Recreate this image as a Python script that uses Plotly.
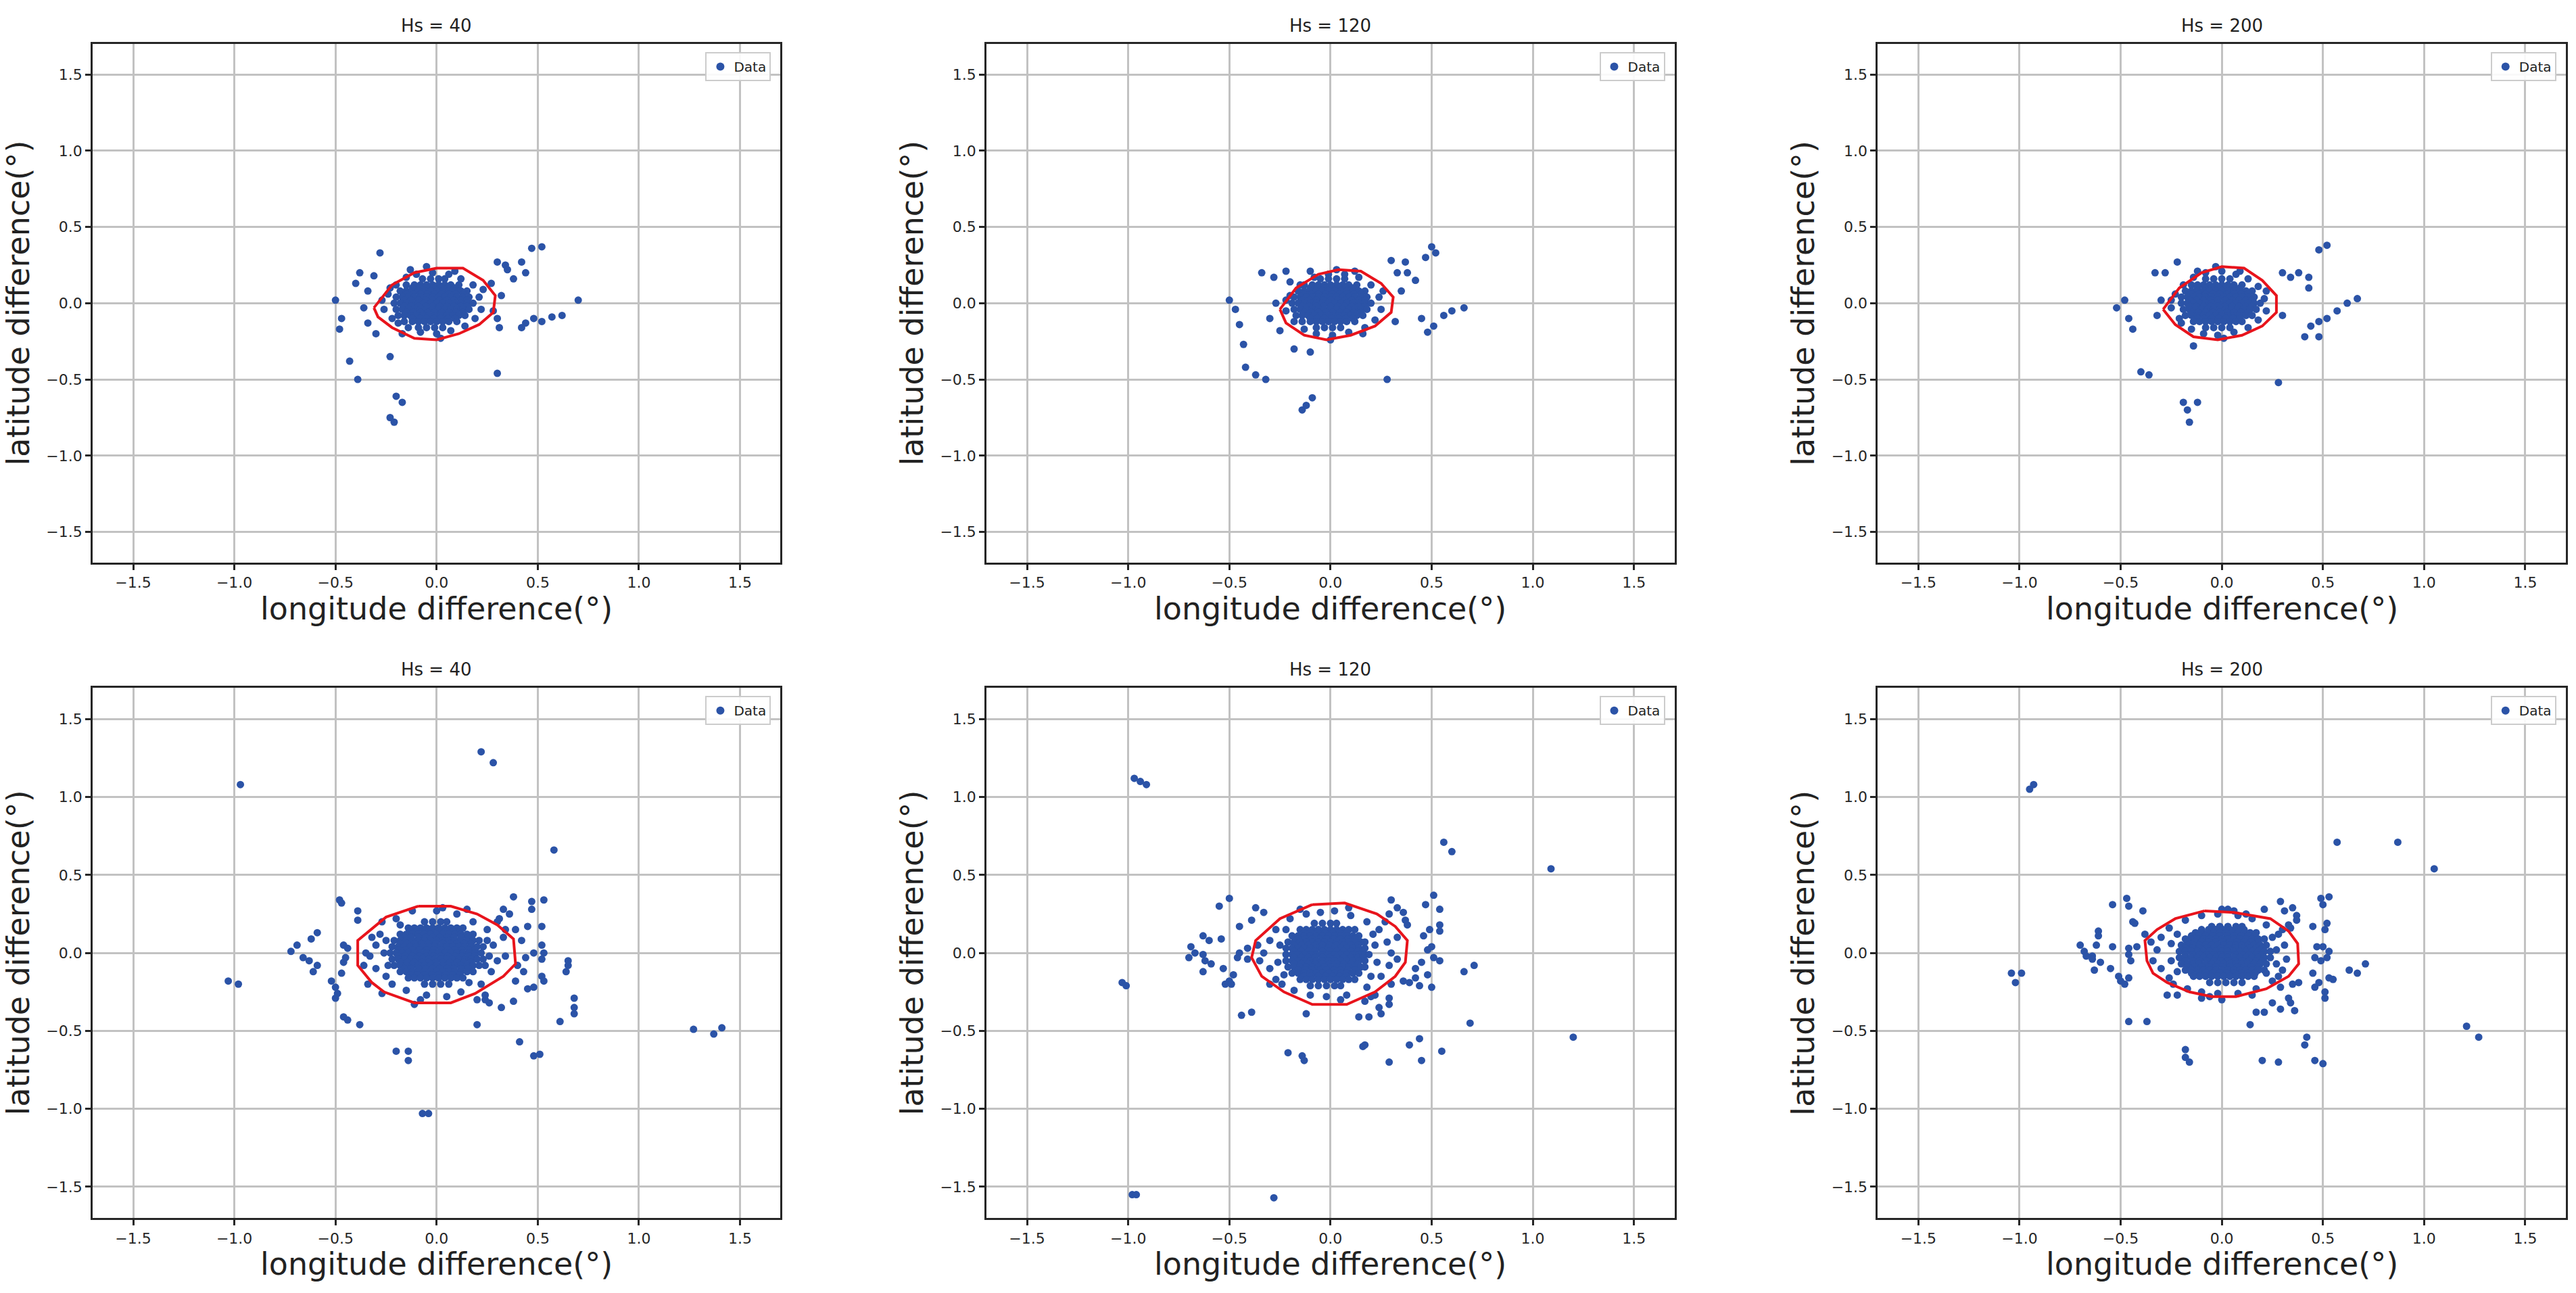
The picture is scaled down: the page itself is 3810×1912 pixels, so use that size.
import plotly.graph_objects as go

# ---------------- data ----------------
titles = ["Hs = 40", "Hs = 120", "Hs = 200", "Hs = 40", "Hs = 120", "Hs = 200"]
tick_vals = [-1.5, -1.0, -0.5, 0.0, 0.5, 1.0, 1.5]
tick_text = ["\u22121.5", "\u22121.0", "\u22120.5", "0.0", "0.5", "1.0", "1.5"]
x_label = "longitude difference(°)"
y_label = "latitude difference(°)"
legend_label = "Data"

# dense cores: (latitude, [longitudes])
p1_core = [
    (0.16, [-0.07, -0.03, 0.01, 0.04]),
    (0.12, [-0.15, -0.11, -0.08, -0.05, -0.02, 0.01, 0.04, 0.07, 0.11]),
    (0.1, [-0.12, -0.085, -0.05, -0.015, 0.02, 0.055, 0.09]),
    (0.08, [-0.18, -0.15, -0.12, -0.09, -0.06, -0.03, 0.0, 0.03, 0.06, 0.09, 0.12, 0.15]),
    (0.06, [-0.15, -0.115, -0.08, -0.045, -0.01, 0.025, 0.06, 0.095, 0.13]),
    (0.04, [-0.2, -0.17, -0.14, -0.11, -0.08, -0.05, -0.02, 0.01, 0.04, 0.07, 0.1, 0.13, 0.16]),
    (0.02, [-0.16, -0.125, -0.09, -0.055, -0.02, 0.015, 0.05, 0.085, 0.12, 0.15]),
    (0.0, [-0.21, -0.18, -0.15, -0.12, -0.09, -0.06, -0.03, 0.0, 0.03, 0.06, 0.09, 0.12, 0.15, 0.18]),
    (-0.02, [-0.16, -0.125, -0.09, -0.055, -0.02, 0.015, 0.05, 0.085, 0.12, 0.15]),
    (-0.04, [-0.2, -0.17, -0.14, -0.11, -0.08, -0.05, -0.02, 0.01, 0.04, 0.07, 0.1, 0.13, 0.16]),
    (-0.06, [-0.15, -0.115, -0.08, -0.045, -0.01, 0.025, 0.06, 0.095, 0.13]),
    (-0.08, [-0.19, -0.16, -0.13, -0.1, -0.07, -0.04, -0.01, 0.02, 0.05, 0.08, 0.11, 0.14]),
    (-0.1, [-0.12, -0.085, -0.05, -0.015, 0.02, 0.055, 0.09]),
    (-0.12, [-0.16, -0.12, -0.09, -0.06, -0.03, 0.0, 0.03, 0.06, 0.1]),
    (-0.16, [-0.09, -0.05, -0.01, 0.03]),
]
p1_pts = [
    (-0.26, -0.04), (-0.24, 0.06), (-0.22, -0.1), (-0.2, 0.12), (-0.15, 0.17), (-0.1, 0.19), (-0.02, 0.2),
    (0.06, 0.19), (0.12, 0.16), (0.18, 0.12), (0.21, 0.04), (0.22, -0.04), (0.19, -0.1), (0.14, -0.15),
    (0.07, -0.18), (0.0, -0.2), (-0.08, -0.19), (-0.14, -0.16), (-0.19, -0.13), (-0.23, 0.1), (-0.05, 0.24),
    (-0.13, 0.22), (0.09, 0.21), (-0.17, -0.2), (0.02, -0.23), (0.23, 0.09), (-0.27, 0.02),
    (-0.5, 0.02), (-0.47, -0.1), (-0.48, -0.17), (-0.43, -0.38), (-0.39, -0.5), (-0.4, 0.13), (-0.34, 0.08),
    (-0.28, 0.33), (-0.31, 0.18), (-0.2, -0.61), (-0.23, -0.75), (-0.21, -0.78), (-0.17, -0.65), (-0.23, -0.35),
    (-0.36, -0.03), (-0.34, -0.13), (-0.38, 0.2), (0.27, 0.13), (0.3, 0.27), (0.42, 0.27), (0.47, 0.36),
    (0.52, 0.37), (0.38, 0.16), (0.44, 0.2), (0.32, 0.05), (0.44, -0.13), (0.48, -0.1), (0.52, -0.12),
    (0.57, -0.09), (0.62, -0.08), (0.7, 0.02), (0.42, -0.16), (0.3, -0.46), (0.35, 0.22), (0.3, -0.1),
    (0.34, 0.25), (0.28, -0.05), (-0.3, -0.2), (0.31, -0.16),
]
p1_hull_x = [-0.31, -0.22, -0.11, 0.0, 0.13, 0.23, 0.29, 0.28, 0.21, 0.11, 0.0, -0.11, -0.22, -0.29, -0.31]
p1_hull_y = [-0.03, 0.12, 0.2, 0.23, 0.23, 0.15, 0.05, -0.06, -0.14, -0.2, -0.24, -0.23, -0.16, -0.09, -0.03]

p2_core = [
    (0.16, [-0.05, -0.01, 0.03, 0.07]),
    (0.12, [-0.13, -0.09, -0.06, -0.03, 0.0, 0.03, 0.06, 0.09, 0.13]),
    (0.1, [-0.1, -0.065, -0.03, 0.005, 0.04, 0.075, 0.11]),
    (0.08, [-0.16, -0.13, -0.1, -0.07, -0.04, -0.01, 0.02, 0.05, 0.08, 0.11, 0.14, 0.17]),
    (0.06, [-0.13, -0.095, -0.06, -0.025, 0.01, 0.045, 0.08, 0.115, 0.15]),
    (0.04, [-0.18, -0.15, -0.12, -0.09, -0.06, -0.03, 0.0, 0.03, 0.06, 0.09, 0.12, 0.15, 0.18]),
    (0.02, [-0.14, -0.105, -0.07, -0.035, 0.0, 0.035, 0.07, 0.105, 0.14, 0.17]),
    (0.0, [-0.19, -0.16, -0.13, -0.1, -0.07, -0.04, -0.01, 0.02, 0.05, 0.08, 0.11, 0.14, 0.17, 0.2]),
    (-0.02, [-0.14, -0.105, -0.07, -0.035, 0.0, 0.035, 0.07, 0.105, 0.14, 0.17]),
    (-0.04, [-0.18, -0.15, -0.12, -0.09, -0.06, -0.03, 0.0, 0.03, 0.06, 0.09, 0.12, 0.15, 0.18]),
    (-0.06, [-0.13, -0.095, -0.06, -0.025, 0.01, 0.045, 0.08, 0.115, 0.15]),
    (-0.08, [-0.17, -0.14, -0.11, -0.08, -0.05, -0.02, 0.01, 0.04, 0.07, 0.1, 0.13, 0.16]),
    (-0.1, [-0.1, -0.065, -0.03, 0.005, 0.04, 0.075, 0.11]),
    (-0.12, [-0.14, -0.1, -0.07, -0.04, -0.01, 0.02, 0.05, 0.08, 0.12]),
    (-0.16, [-0.07, -0.03, 0.01, 0.05]),
]
p2_pts = [
    (-0.22, -0.05), (-0.2, 0.05), (-0.18, -0.12), (-0.15, 0.12), (-0.08, 0.17), (-0.01, 0.19), (0.07, 0.19),
    (0.14, 0.17), (0.2, 0.12), (0.24, 0.04), (0.25, -0.04), (0.22, -0.11), (0.17, -0.16), (0.09, -0.19),
    (0.01, -0.21), (-0.07, -0.2), (-0.13, -0.17), (-0.2, 0.14), (0.03, 0.22), (-0.1, 0.21), (0.12, 0.21),
    (0.0, -0.24), (0.26, 0.08), (-0.22, 0.02), (0.16, -0.2),
    (-0.5, 0.02), (-0.47, -0.04), (-0.45, -0.14), (-0.43, -0.27), (-0.42, -0.42), (-0.37, -0.47), (-0.32, -0.5),
    (-0.34, 0.2), (-0.28, 0.17), (-0.22, 0.21), (-0.27, 0.0), (-0.3, -0.1), (-0.25, -0.18), (-0.14, -0.7),
    (-0.12, -0.67), (-0.09, -0.62), (-0.1, -0.32), (-0.18, -0.3), (0.33, 0.2), (0.38, 0.2), (0.37, 0.27),
    (0.47, 0.3), (0.5, 0.37), (0.52, 0.33), (0.45, -0.1), (0.48, -0.19), (0.51, -0.15), (0.56, -0.08),
    (0.6, -0.05), (0.66, -0.03), (0.28, -0.5), (0.35, 0.08), (0.32, -0.12), (0.42, 0.15), (0.3, 0.28),
]
p2_hull_x = [-0.25, -0.17, -0.06, 0.04, 0.15, 0.25, 0.31, 0.3, 0.22, 0.1, -0.02, -0.13, -0.22, -0.25]
p2_hull_y = [-0.04, 0.1, 0.19, 0.22, 0.21, 0.13, 0.04, -0.06, -0.15, -0.21, -0.24, -0.21, -0.13, -0.04]

p3_core = [
    (0.16, [-0.08, -0.04, 0.0, 0.04]),
    (0.12, [-0.15, -0.12, -0.09, -0.06, -0.03, 0.0, 0.03, 0.06, 0.1]),
    (0.1, [-0.12, -0.085, -0.05, -0.015, 0.02, 0.055, 0.09]),
    (0.08, [-0.18, -0.15, -0.12, -0.09, -0.06, -0.03, 0.0, 0.03, 0.06, 0.09, 0.12, 0.15]),
    (0.06, [-0.15, -0.115, -0.08, -0.045, -0.01, 0.025, 0.06, 0.095, 0.13]),
    (0.04, [-0.2, -0.17, -0.14, -0.11, -0.08, -0.05, -0.02, 0.01, 0.04, 0.07, 0.1, 0.13, 0.16]),
    (0.02, [-0.16, -0.125, -0.09, -0.055, -0.02, 0.015, 0.05, 0.085, 0.12, 0.15]),
    (0.0, [-0.2, -0.17, -0.14, -0.11, -0.08, -0.05, -0.02, 0.01, 0.04, 0.07, 0.1, 0.13, 0.16, 0.19]),
    (-0.02, [-0.16, -0.125, -0.09, -0.055, -0.02, 0.015, 0.05, 0.085, 0.12, 0.15]),
    (-0.04, [-0.19, -0.16, -0.13, -0.1, -0.07, -0.04, -0.01, 0.02, 0.05, 0.08, 0.11, 0.14, 0.17]),
    (-0.06, [-0.15, -0.115, -0.08, -0.045, -0.01, 0.025, 0.06, 0.095, 0.13]),
    (-0.08, [-0.18, -0.15, -0.12, -0.09, -0.06, -0.03, 0.0, 0.03, 0.06, 0.09, 0.12, 0.15]),
    (-0.1, [-0.12, -0.085, -0.05, -0.015, 0.02, 0.055, 0.09]),
    (-0.12, [-0.14, -0.11, -0.08, -0.05, -0.02, 0.01, 0.04, 0.07, 0.1]),
    (-0.16, [-0.08, -0.04, 0.0, 0.04]),
]
p3_pts = [
    (-0.25, -0.03), (-0.23, 0.06), (-0.21, -0.1), (-0.19, 0.12), (-0.14, 0.17), (-0.08, 0.2), (0.0, 0.21),
    (0.07, 0.19), (0.13, 0.16), (0.18, 0.11), (0.21, 0.03), (0.22, -0.05), (0.18, -0.11), (0.13, -0.16),
    (0.06, -0.19), (-0.02, -0.21), (-0.09, -0.2), (-0.15, -0.17), (-0.2, -0.13), (-0.03, 0.24), (-0.12, 0.21),
    (0.09, 0.21), (0.01, -0.23), (0.22, 0.08), (-0.25, 0.02),
    (-0.52, -0.03), (-0.48, 0.02), (-0.46, -0.1), (-0.44, -0.17), (-0.4, -0.45), (-0.36, -0.47), (-0.33, 0.2),
    (-0.28, 0.2), (-0.22, 0.27), (-0.19, -0.65), (-0.17, -0.7), (-0.16, -0.78), (-0.12, -0.65), (-0.14, -0.28),
    (-0.3, 0.02), (-0.32, -0.08), (0.3, 0.2), (0.34, 0.17), (0.38, 0.2), (0.43, 0.17), (0.48, 0.35),
    (0.52, 0.38), (0.43, 0.1), (0.44, -0.15), (0.48, -0.12), (0.52, -0.1), (0.57, -0.05), (0.62, 0.0),
    (0.67, 0.03), (0.48, -0.22), (0.41, -0.22), (0.28, -0.52), (0.3, -0.08),
]
p3_hull_x = [-0.29, -0.21, -0.1, 0.0, 0.11, 0.2, 0.27, 0.27, 0.2, 0.1, -0.02, -0.14, -0.23, -0.29]
p3_hull_y = [-0.04, 0.1, 0.2, 0.24, 0.23, 0.15, 0.05, -0.06, -0.15, -0.21, -0.24, -0.22, -0.14, -0.04]

p4_core = [
    (0.2, [-0.06, -0.02, 0.02, 0.05]),
    (0.16, [-0.14, -0.11, -0.08, -0.05, -0.02, 0.01, 0.04, 0.07, 0.1, 0.13]),
    (0.14, [-0.13, -0.095, -0.06, -0.025, 0.01, 0.045, 0.08, 0.115]),
    (0.12, [-0.18, -0.15, -0.12, -0.09, -0.06, -0.03, 0.0, 0.03, 0.06, 0.09, 0.12, 0.15, 0.18]),
    (0.1, [-0.16, -0.125, -0.09, -0.055, -0.02, 0.015, 0.05, 0.085, 0.12, 0.155]),
    (0.08, [-0.21, -0.18, -0.15, -0.12, -0.09, -0.06, -0.03, 0.0, 0.03, 0.06, 0.09, 0.12, 0.15, 0.18, 0.21]),
    (0.06, [-0.18, -0.145, -0.11, -0.075, -0.04, -0.005, 0.03, 0.065, 0.1, 0.135, 0.17]),
    (0.04, [-0.22, -0.19, -0.16, -0.13, -0.1, -0.07, -0.04, -0.01, 0.02, 0.05, 0.08, 0.11, 0.14, 0.17, 0.2, 0.23]),
    (0.02, [-0.19, -0.155, -0.12, -0.085, -0.05, -0.015, 0.02, 0.055, 0.09, 0.125, 0.16, 0.19]),
    (0.0, [-0.23, -0.2, -0.17, -0.14, -0.11, -0.08, -0.05, -0.02, 0.01, 0.04, 0.07, 0.1, 0.13, 0.16, 0.19, 0.22]),
    (-0.02, [-0.19, -0.155, -0.12, -0.085, -0.05, -0.015, 0.02, 0.055, 0.09, 0.125, 0.16, 0.19]),
    (-0.04, [-0.22, -0.19, -0.16, -0.13, -0.1, -0.07, -0.04, -0.01, 0.02, 0.05, 0.08, 0.11, 0.14, 0.17, 0.2, 0.23]),
    (-0.06, [-0.18, -0.145, -0.11, -0.075, -0.04, -0.005, 0.03, 0.065, 0.1, 0.135, 0.17]),
    (-0.08, [-0.21, -0.18, -0.15, -0.12, -0.09, -0.06, -0.03, 0.0, 0.03, 0.06, 0.09, 0.12, 0.15, 0.18, 0.21]),
    (-0.1, [-0.16, -0.125, -0.09, -0.055, -0.02, 0.015, 0.05, 0.085, 0.12, 0.155]),
    (-0.12, [-0.18, -0.15, -0.12, -0.09, -0.06, -0.03, 0.0, 0.03, 0.06, 0.09, 0.12, 0.15, 0.18]),
    (-0.14, [-0.13, -0.095, -0.06, -0.025, 0.01, 0.045, 0.08, 0.115]),
    (-0.16, [-0.14, -0.11, -0.08, -0.05, -0.02, 0.01, 0.04, 0.07, 0.1, 0.13]),
    (-0.2, [-0.06, -0.02, 0.02, 0.06]),
]
p4_pts = [
    (-1.03, -0.18), (-0.98, -0.2), (-0.97, 1.08), (0.22, 1.29), (0.28, 1.22), (-0.07, -1.03), (-0.04, -1.03),
    (1.27, -0.49), (1.37, -0.52), (1.41, -0.48),
    (0.58, 0.66), (-0.48, 0.34), (-0.47, 0.32), (-0.39, 0.27), (-0.39, 0.21), (-0.59, 0.13), (-0.62, 0.09),
    (-0.69, 0.05), (-0.72, 0.01), (-0.66, -0.03), (-0.63, -0.05), (-0.59, -0.08), (-0.61, -0.12), (-0.52, -0.18),
    (-0.5, -0.22), (-0.49, -0.26), (-0.5, -0.29), (-0.46, -0.41), (-0.44, -0.43), (-0.38, -0.46), (-0.46, -0.06),
    (-0.44, 0.03), (-0.46, 0.05), (-0.45, -0.03), (-0.47, -0.13), (-0.34, -0.2), (-0.27, -0.26), (-0.11, -0.33),
    (-0.2, -0.63), (-0.14, -0.63), (-0.14, -0.69), (0.2, -0.46), (0.38, 0.36), (0.33, 0.28), (0.36, 0.25),
    (0.47, 0.33), (0.53, 0.34), (0.47, 0.28), (0.45, 0.17), (0.52, 0.17), (0.52, 0.05), (0.53, 0.0),
    (0.48, 0.0), (0.52, -0.04), (0.65, -0.05), (0.65, -0.08), (0.64, -0.12), (0.43, -0.12), (0.39, -0.18),
    (0.52, -0.15), (0.53, -0.18), (0.45, -0.23), (0.48, -0.22), (0.38, -0.31), (0.32, -0.35), (0.26, -0.32),
    (0.24, -0.3), (0.68, -0.29), (0.68, -0.35), (0.68, -0.39), (0.61, -0.44), (0.41, -0.57), (0.48, -0.66),
    (0.51, -0.65), (0.31, 0.22), (0.34, 0.15), (0.39, 0.15), (0.4, -0.08), (0.44, -0.03), (0.42, 0.08),
    (-0.3, 0.05), (-0.33, -0.02), (-0.3, -0.1), (-0.28, 0.12), (-0.25, -0.15), (-0.2, 0.22), (-0.12, 0.27),
    (0.0, 0.27), (0.03, 0.29), (0.1, 0.25), (0.18, 0.2), (0.25, 0.15), (0.28, 0.05), (0.3, -0.05),
    (0.27, -0.12), (0.22, -0.2), (0.12, -0.25), (0.05, -0.28), (-0.05, -0.27), (-0.15, -0.24), (-0.22, -0.2),
    (-0.35, 0.0), (-0.32, 0.1), (0.33, 0.1), (0.34, -0.02), (0.3, 0.2), (0.24, -0.27), (-0.27, 0.2),
    (-0.36, -0.08), (0.15, 0.28), (-0.08, -0.3), (0.2, -0.3), (-0.26, 0.0), (-0.25, 0.08), (0.26, -0.02),
    (0.25, 0.08), (0.24, -0.08), (-0.24, -0.08), (-0.18, 0.18), (0.16, -0.19),
]
p4_hull_x = [-0.09, 0.07, 0.2, 0.3, 0.38, 0.39, 0.33, 0.19, 0.07, -0.11, -0.26, -0.32, -0.39, -0.39, -0.25, -0.09]
p4_hull_y = [0.3, 0.3, 0.25, 0.18, 0.09, -0.07, -0.15, -0.26, -0.32, -0.32, -0.25, -0.19, -0.08, 0.08, 0.23, 0.3]

p5_core = [
    (0.19, [-0.08, -0.04, 0.0, 0.03]),
    (0.15, [-0.15, -0.12, -0.09, -0.06, -0.03, 0.0, 0.03, 0.06, 0.09, 0.12]),
    (0.13, [-0.13, -0.095, -0.06, -0.025, 0.01, 0.045, 0.08]),
    (0.11, [-0.19, -0.16, -0.13, -0.1, -0.07, -0.04, -0.01, 0.02, 0.05, 0.08, 0.11, 0.14]),
    (0.09, [-0.16, -0.125, -0.09, -0.055, -0.02, 0.015, 0.05, 0.085, 0.12]),
    (0.07, [-0.21, -0.18, -0.15, -0.12, -0.09, -0.06, -0.03, 0.0, 0.03, 0.06, 0.09, 0.12, 0.15, 0.17]),
    (0.05, [-0.18, -0.145, -0.11, -0.075, -0.04, -0.005, 0.03, 0.065, 0.1, 0.135]),
    (0.03, [-0.22, -0.19, -0.16, -0.13, -0.1, -0.07, -0.04, -0.01, 0.02, 0.05, 0.08, 0.11, 0.14, 0.17]),
    (0.01, [-0.18, -0.145, -0.11, -0.075, -0.04, -0.005, 0.03, 0.065, 0.1, 0.135, 0.16]),
    (-0.01, [-0.22, -0.19, -0.16, -0.13, -0.1, -0.07, -0.04, -0.01, 0.02, 0.05, 0.08, 0.11, 0.14, 0.17, 0.19]),
    (-0.03, [-0.18, -0.145, -0.11, -0.075, -0.04, -0.005, 0.03, 0.065, 0.1, 0.135, 0.16]),
    (-0.05, [-0.22, -0.19, -0.16, -0.13, -0.1, -0.07, -0.04, -0.01, 0.02, 0.05, 0.08, 0.11, 0.14, 0.17]),
    (-0.07, [-0.18, -0.145, -0.11, -0.075, -0.04, -0.005, 0.03, 0.065, 0.1, 0.135]),
    (-0.09, [-0.21, -0.18, -0.15, -0.12, -0.09, -0.06, -0.03, 0.0, 0.03, 0.06, 0.09, 0.12, 0.15, 0.17]),
    (-0.11, [-0.16, -0.125, -0.09, -0.055, -0.02, 0.015, 0.05, 0.085, 0.12]),
    (-0.13, [-0.19, -0.16, -0.13, -0.1, -0.07, -0.04, -0.01, 0.02, 0.05, 0.08, 0.11, 0.14]),
    (-0.15, [-0.13, -0.095, -0.06, -0.025, 0.01, 0.045, 0.08]),
    (-0.17, [-0.15, -0.12, -0.09, -0.06, -0.03, 0.0, 0.03, 0.06, 0.09, 0.12]),
    (-0.21, [-0.1, -0.06, -0.02, 0.02, 0.05]),
]
p5_pts = [
    (-0.97, 1.12), (-0.94, 1.1), (-0.91, 1.08), (-1.03, -0.19), (-1.01, -0.21), (-0.98, -1.55), (-0.96, -1.55),
    (-0.28, -1.57), (1.09, 0.54), (1.2, -0.54), (0.56, 0.71), (0.6, 0.65),
    (-0.55, 0.3), (-0.5, 0.35), (-0.37, 0.29), (-0.33, 0.26), (-0.39, 0.21), (-0.45, 0.17), (-0.63, 0.11),
    (-0.6, 0.08), (-0.54, 0.09), (-0.69, 0.04), (-0.67, 0.0), (-0.7, -0.03), (-0.63, -0.01), (-0.62, -0.05),
    (-0.59, -0.07), (-0.63, -0.12), (-0.53, -0.1), (-0.48, -0.14), (-0.5, -0.18), (-0.52, -0.2), (-0.49, -0.2),
    (-0.46, -0.03), (-0.45, 0.0), (-0.41, 0.03), (-0.41, -0.04), (-0.44, -0.4), (-0.39, -0.38), (-0.12, -0.39),
    (-0.21, -0.64), (-0.14, -0.66), (-0.13, -0.69), (0.14, -0.41), (0.19, -0.41), (0.25, -0.39), (0.16, -0.6),
    (0.17, -0.59), (0.29, -0.7), (0.45, -0.69), (0.39, -0.59), (0.44, -0.55), (0.55, -0.63), (0.69, -0.45),
    (0.66, -0.12), (0.71, -0.08), (0.29, -0.29), (0.29, -0.33), (0.24, -0.35), (0.17, -0.31), (0.22, -0.27),
    (0.36, -0.18), (0.39, -0.19), (0.44, -0.21), (0.5, -0.22), (0.48, -0.14), (0.42, -0.16), (0.54, -0.05),
    (0.51, -0.03), (0.48, 0.02), (0.5, 0.04), (0.46, 0.11), (0.49, 0.15), (0.54, 0.14), (0.54, 0.18),
    (0.47, 0.31), (0.51, 0.37), (0.54, 0.28), (0.3, 0.34), (0.33, 0.29), (0.36, 0.26), (0.37, 0.21),
    (0.38, 0.18), (0.29, 0.25), (0.09, 0.29), (0.42, -0.1), (0.45, -0.06),
    (-0.33, 0.0), (-0.35, -0.05), (-0.3, 0.08), (-0.3, -0.1), (-0.27, 0.15), (-0.27, -0.17), (-0.2, 0.22),
    (-0.12, 0.25), (-0.05, 0.26), (0.02, 0.27), (0.1, 0.24), (0.18, 0.2), (0.24, 0.15), (0.28, 0.07),
    (0.3, 0.0), (0.29, -0.08), (0.25, -0.15), (0.18, -0.22), (0.08, -0.27), (-0.02, -0.28), (-0.1, -0.27),
    (-0.18, -0.24), (-0.24, -0.2), (0.33, 0.1), (0.33, -0.04), (0.3, -0.2), (0.2, -0.28), (-0.3, -0.2),
    (-0.36, 0.05), (-0.25, 0.05), (-0.26, -0.06), (0.22, 0.05), (0.23, -0.06), (0.21, 0.12), (0.2, -0.15),
    (-0.22, 0.15), (-0.23, -0.14), (0.05, -0.3), (-0.15, 0.28), (0.27, 0.2),
]
p5_hull_x = [-0.09, 0.07, 0.23, 0.32, 0.38, 0.37, 0.32, 0.22, 0.08, -0.09, -0.23, -0.34, -0.39, -0.37, -0.25, -0.09]
p5_hull_y = [0.31, 0.32, 0.25, 0.17, 0.08, -0.06, -0.15, -0.25, -0.33, -0.33, -0.25, -0.15, -0.03, 0.08, 0.22, 0.31]

p6_core = [
    (0.17, [-0.05, -0.01, 0.03, 0.07, 0.1]),
    (0.15, [-0.1, -0.065, -0.03, 0.005, 0.04, 0.075, 0.11]),
    (0.13, [-0.13, -0.1, -0.07, -0.04, -0.01, 0.02, 0.05, 0.08, 0.11, 0.14, 0.17]),
    (0.11, [-0.15, -0.115, -0.08, -0.045, -0.01, 0.025, 0.06, 0.095, 0.13, 0.165]),
    (0.09, [-0.18, -0.15, -0.12, -0.09, -0.06, -0.03, 0.0, 0.03, 0.06, 0.09, 0.12, 0.15, 0.18, 0.21]),
    (0.07, [-0.17, -0.135, -0.1, -0.065, -0.03, 0.005, 0.04, 0.075, 0.11, 0.145, 0.18]),
    (0.05, [-0.2, -0.17, -0.14, -0.11, -0.08, -0.05, -0.02, 0.01, 0.04, 0.07, 0.1, 0.13, 0.16, 0.19, 0.22]),
    (0.03, [-0.18, -0.145, -0.11, -0.075, -0.04, -0.005, 0.03, 0.065, 0.1, 0.135, 0.17, 0.2]),
    (0.01, [-0.21, -0.18, -0.15, -0.12, -0.09, -0.06, -0.03, 0.0, 0.03, 0.06, 0.09, 0.12, 0.15, 0.18, 0.21, 0.24]),
    (-0.01, [-0.18, -0.145, -0.11, -0.075, -0.04, -0.005, 0.03, 0.065, 0.1, 0.135, 0.17, 0.2]),
    (-0.03, [-0.21, -0.18, -0.15, -0.12, -0.09, -0.06, -0.03, 0.0, 0.03, 0.06, 0.09, 0.12, 0.15, 0.18, 0.21, 0.24]),
    (-0.05, [-0.18, -0.145, -0.11, -0.075, -0.04, -0.005, 0.03, 0.065, 0.1, 0.135, 0.17, 0.2]),
    (-0.07, [-0.2, -0.17, -0.14, -0.11, -0.08, -0.05, -0.02, 0.01, 0.04, 0.07, 0.1, 0.13, 0.16, 0.19, 0.22]),
    (-0.09, [-0.17, -0.135, -0.1, -0.065, -0.03, 0.005, 0.04, 0.075, 0.11, 0.145, 0.18]),
    (-0.11, [-0.18, -0.15, -0.12, -0.09, -0.06, -0.03, 0.0, 0.03, 0.06, 0.09, 0.12, 0.15, 0.18, 0.21]),
    (-0.13, [-0.15, -0.115, -0.08, -0.045, -0.01, 0.025, 0.06, 0.095, 0.13, 0.165]),
    (-0.15, [-0.14, -0.11, -0.08, -0.05, -0.02, 0.01, 0.04, 0.07, 0.1, 0.13, 0.16]),
    (-0.19, [-0.06, -0.02, 0.02, 0.06, 0.1]),
]
p6_pts = [
    (0.57, 0.71), (0.87, 0.71), (1.05, 0.54), (1.21, -0.47), (1.27, -0.54), (-1.04, -0.13), (-0.99, -0.13),
    (-1.02, -0.19), (-0.95, 1.05), (-0.93, 1.08),
    (-0.54, 0.31), (-0.47, 0.35), (-0.46, 0.3), (-0.39, 0.27), (-0.44, 0.2), (-0.43, 0.19), (-0.61, 0.14),
    (-0.61, 0.11), (-0.7, 0.05), (-0.62, 0.05), (-0.54, 0.04), (-0.68, 0.01), (-0.67, -0.02), (-0.64, -0.02),
    (-0.64, -0.04), (-0.6, -0.06), (-0.63, -0.11), (-0.55, -0.1), (-0.51, -0.15), (-0.5, -0.18), (-0.48, -0.2),
    (-0.46, -0.16), (-0.46, 0.03), (-0.46, -0.01), (-0.45, -0.05), (-0.42, 0.04), (-0.38, 0.12), (-0.46, -0.44),
    (-0.37, -0.44), (-0.18, -0.62), (-0.18, -0.67), (-0.16, -0.7), (-0.27, -0.27), (-0.22, -0.27), (-0.1, -0.29),
    (0.2, -0.69), (0.28, -0.7), (0.14, -0.46), (0.17, -0.38), (0.21, -0.38), (0.25, -0.32), (0.29, -0.36),
    (0.36, -0.37), (0.33, -0.29), (0.34, -0.32), (0.42, -0.54), (0.41, -0.59), (0.46, -0.69), (0.5, -0.71),
    (0.51, -0.25), (0.51, -0.29), (0.46, -0.22), (0.48, -0.19), (0.53, -0.16), (0.55, -0.17), (0.45, -0.13),
    (0.63, -0.11), (0.67, -0.13), (0.71, -0.07), (0.35, -0.2), (0.38, -0.19), (0.29, -0.22), (0.49, 0.35),
    (0.53, 0.36), (0.5, 0.31), (0.29, 0.33), (0.21, 0.28), (0.31, 0.27), (0.35, 0.29), (0.37, 0.24),
    (0.37, 0.21), (0.45, 0.17), (0.52, 0.19), (0.51, 0.15), (0.47, 0.04), (0.5, 0.04), (0.53, 0.01),
    (0.52, -0.03), (0.46, -0.03), (0.49, -0.05), (0.33, 0.18), (0.34, 0.16), (0.0, 0.28), (0.06, 0.27),
    (0.03, 0.28),
    (-0.32, 0.02), (-0.34, -0.05), (-0.3, 0.1), (-0.3, -0.1), (-0.26, 0.16), (-0.26, -0.16), (-0.18, 0.21),
    (-0.1, 0.24), (-0.02, 0.25), (0.08, 0.24), (0.15, 0.22), (0.22, 0.18), (0.28, 0.12), (0.31, 0.05),
    (0.32, -0.04), (0.3, -0.11), (0.25, -0.18), (0.17, -0.23), (0.08, -0.26), (-0.02, -0.26), (-0.1, -0.25),
    (-0.17, -0.23), (-0.24, -0.2), (-0.25, 0.06), (-0.25, -0.05), (0.27, 0.02), (0.27, -0.07), (0.25, 0.1),
    (0.22, -0.13), (-0.22, 0.12), (-0.22, -0.12), (0.12, 0.25), (-0.06, -0.28), (0.3, 0.15), (0.28, -0.15),
    (-0.35, 0.07), (0.0, -0.3), (0.15, -0.27),
]
p6_hull_x = [-0.085, 0.06, 0.24, 0.33, 0.375, 0.38, 0.33, 0.22, 0.07, -0.05, -0.16, -0.27, -0.34, -0.37, -0.38, -0.32, -0.23, -0.085]
p6_hull_y = [0.27, 0.26, 0.22, 0.14, 0.06, -0.07, -0.15, -0.23, -0.28, -0.28, -0.25, -0.19, -0.13, -0.05, 0.08, 0.15, 0.22, 0.27]

cores = [p1_core, p2_core, p3_core, p4_core, p5_core, p6_core]
extras = [p1_pts, p2_pts, p3_pts, p4_pts, p5_pts, p6_pts]
hulls = [(p1_hull_x, p1_hull_y), (p2_hull_x, p2_hull_y), (p3_hull_x, p3_hull_y),
         (p4_hull_x, p4_hull_y), (p5_hull_x, p5_hull_y), (p6_hull_x, p6_hull_y)]

# ---------------- styling / layout ----------------
W, H = 3810, 1912
col_dom = [(0.036, 0.303), (0.383, 0.650), (0.729, 0.996)]
row_dom = [(0.565, 0.966), (0.058, 0.468)]
FONT = "DejaVu Sans"
BLUE = "#2b53a7"
RED = "#e8141c"

fig = go.Figure()
annotations = []
layout = dict(
    width=W, height=H, margin=dict(l=0, r=0, t=0, b=0),
    paper_bgcolor="white", plot_bgcolor="white", showlegend=True,
    font=dict(family=FONT, color="#222222"),
)

for i in range(6):
    r, c = divmod(i, 3)
    n = i + 1
    xa = "x" if n == 1 else f"x{n}"
    ya = "y" if n == 1 else f"y{n}"
    lg = "legend" if n == 1 else f"legend{n}"
    xs, ys = [], []
    for yv, xl in cores[i]:
        for xv in xl:
            xs.append(xv)
            ys.append(yv)
    for xv, yv in extras[i]:
        xs.append(xv)
        ys.append(yv)
    fig.add_trace(go.Scatter(x=xs, y=ys, mode="markers", name=legend_label,
                             marker=dict(color=BLUE, size=11, line=dict(width=0)),
                             xaxis=xa, yaxis=ya, legend=lg, showlegend=True))
    hx, hy = hulls[i]
    fig.add_trace(go.Scatter(x=hx, y=hy, mode="lines", line=dict(color=RED, width=4),
                             xaxis=xa, yaxis=ya, showlegend=False, hoverinfo="skip"))

    axis_common = dict(
        range=[-1.7, 1.7], tickmode="array", tickvals=tick_vals, ticktext=tick_text,
        showgrid=True, gridcolor="#c2c2c2", gridwidth=2.5, zeroline=False,
        showline=True, mirror=True, linecolor="#262626", linewidth=3,
        ticks="outside", ticklen=8, tickwidth=2.5, tickcolor="#262626",
        tickfont=dict(family=FONT, size=22, color="#262626"),
    )
    xkey = "xaxis" if n == 1 else f"xaxis{n}"
    ykey = "yaxis" if n == 1 else f"yaxis{n}"
    layout[xkey] = dict(axis_common, domain=list(col_dom[c]), anchor=ya)
    layout[ykey] = dict(axis_common, domain=list(row_dom[r]), anchor=xa)

    x0, x1 = col_dom[c]
    y0, y1 = row_dom[r]
    layout[lg] = dict(x=x1 - 14 / W, y=y1 - 12 / H, xanchor="right", yanchor="top",
                      bgcolor="rgba(255,255,255,0.9)", bordercolor="#cccccc", borderwidth=2,
                      font=dict(family=FONT, size=20, color="#222222"),
                      itemsizing="constant")
    annotations.append(dict(text=titles[i], x=(x0 + x1) / 2, y=y1 + 10 / H, xref="paper", yref="paper",
                            xanchor="center", yanchor="bottom", showarrow=False,
                            font=dict(family=FONT, size=26, color="#222222")))
    annotations.append(dict(text=x_label, x=(x0 + x1) / 2, y=y0 - 68 / H, xref="paper", yref="paper",
                            xanchor="center", yanchor="middle", showarrow=False,
                            font=dict(family=FONT, size=46, color="#222222")))
    annotations.append(dict(text=y_label, x=x0 - 110 / W, y=(y0 + y1) / 2, xref="paper", yref="paper",
                            xanchor="center", yanchor="middle", textangle=-90, showarrow=False,
                            font=dict(family=FONT, size=46, color="#222222")))

layout["annotations"] = annotations
fig.update_layout(**layout)
fig.write_html("out.html", config={"displayModeBar": False},
               post_script="document.body.style.margin='0';")
